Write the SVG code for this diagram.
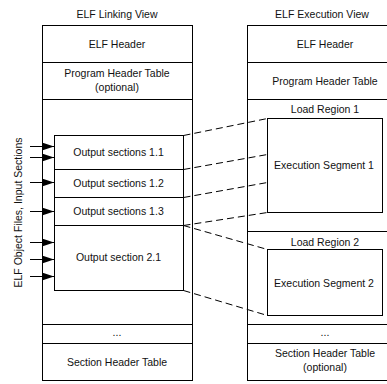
<svg xmlns="http://www.w3.org/2000/svg" width="387" height="384" viewBox="0 0 387 384">
<style>
.box{fill:#fff;stroke:#000;stroke-width:1}
.ln{stroke:#000;stroke-width:1;fill:none}
.dash{stroke:#000;stroke-width:1;fill:none;stroke-dasharray:7 4}
text{font-family:"Liberation Sans",Arial,sans-serif;font-size:10.5px;fill:#111;text-anchor:middle}
</style>
<defs>
<marker id="ah" markerUnits="userSpaceOnUse" markerWidth="12" markerHeight="8" refX="12" refY="4" orient="auto">
<path d="M0,0 L12,4 L0,8 Z" fill="#000"/>
</marker>
</defs>
<rect width="387" height="384" fill="#fff"/>
<text x="117" y="18">ELF Linking View</text>
<text x="322" y="18">ELF Execution View</text>
<g id="linking-view">
<rect class="box" x="42.5" y="25.5" width="150" height="355"/>
<line class="ln" x1="42.5" y1="62.5" x2="192.5" y2="62.5"/>
<line class="ln" x1="42.5" y1="99.5" x2="192.5" y2="99.5"/>
<line class="ln" x1="42.5" y1="324.5" x2="192.5" y2="324.5"/>
<line class="ln" x1="42.5" y1="343.5" x2="192.5" y2="343.5"/>
<text x="117" y="47.5">ELF Header</text>
<text x="117" y="77">Program Header Table</text>
<text x="117" y="91">(optional)</text>
<text x="117" y="336">...</text>
<text x="117" y="365.5">Section Header Table</text>
</g>
<g id="output-sections">
<rect class="box" x="54.5" y="135.5" width="129" height="155"/>
<line class="ln" x1="54.5" y1="169.5" x2="183.5" y2="169.5"/>
<line class="ln" x1="54.5" y1="197.5" x2="183.5" y2="197.5"/>
<line class="ln" x1="54.5" y1="225.5" x2="183.5" y2="225.5"/>
<text x="118.5" y="156">Output sections 1.1</text>
<text x="118.5" y="187">Output sections 1.2</text>
<text x="118.5" y="215">Output sections 1.3</text>
<text x="118.5" y="261">Output section 2.1</text>
</g>
<g id="execution-view">
<rect class="box" x="247.5" y="25.5" width="160" height="355"/>
<line class="ln" x1="247.5" y1="62.5" x2="407.5" y2="62.5"/>
<line class="ln" x1="247.5" y1="99.5" x2="407.5" y2="99.5"/>
<line class="ln" x1="247.5" y1="231.5" x2="407.5" y2="231.5"/>
<line class="ln" x1="247.5" y1="324.5" x2="407.5" y2="324.5"/>
<line class="ln" x1="247.5" y1="343.5" x2="407.5" y2="343.5"/>
<text x="325" y="47.5">ELF Header</text>
<text x="325" y="84.5">Program Header Table</text>
<text x="325" y="113">Load Region 1</text>
<text x="325" y="246">Load Region 2</text>
<text x="325" y="336">...</text>
<text x="325" y="357">Section Header Table</text>
<text x="325" y="371">(optional)</text>
</g>
<g id="segment-1">
<rect class="box" x="267.5" y="118.5" width="115" height="94"/>
<text x="324" y="169">Execution Segment 1</text>
</g>
<g id="segment-2">
<rect class="box" x="267.5" y="249.5" width="115" height="66"/>
<text x="324" y="287">Execution Segment 2</text>
</g>
<text transform="translate(22,212.5) rotate(-90)">ELF Object Files, Input Sections</text>
<g id="connectors">
<line class="ln" x1="30" y1="146.5" x2="54" y2="146.5" marker-end="url(#ah)"/>
<line class="ln" x1="30" y1="157.5" x2="54" y2="157.5" marker-end="url(#ah)"/>
<line class="ln" x1="30" y1="182.5" x2="54" y2="182.5" marker-end="url(#ah)"/>
<line class="ln" x1="30" y1="211.5" x2="54" y2="211.5" marker-end="url(#ah)"/>
<line class="ln" x1="30" y1="242.5" x2="54" y2="242.5" marker-end="url(#ah)"/>
<line class="ln" x1="30" y1="259.5" x2="54" y2="259.5" marker-end="url(#ah)"/>
<line class="ln" x1="30" y1="276.5" x2="54" y2="276.5" marker-end="url(#ah)"/>
<line class="dash" x1="183.5" y1="135.5" x2="267.5" y2="118.5"/>
<line class="dash" x1="183.5" y1="169.5" x2="267.5" y2="154.5"/>
<line class="dash" x1="183.5" y1="197.5" x2="267.5" y2="182.5"/>
<line class="dash" x1="183.5" y1="225.5" x2="267.5" y2="212.5"/>
<line class="dash" x1="183.5" y1="225.5" x2="267.5" y2="249.5"/>
<line class="dash" x1="183.5" y1="290.5" x2="267.5" y2="315.5"/>
</g>
</svg>
